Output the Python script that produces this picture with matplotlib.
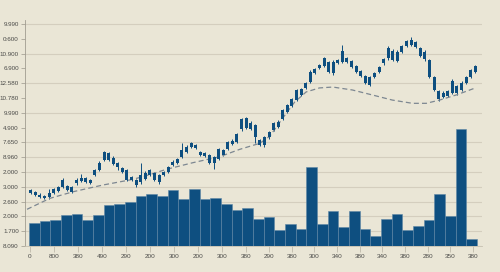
import numpy as np
import matplotlib.pyplot as plt

# volume bars (in y-tick units, 0 = baseline)
volumes = [1.55, 1.69, 1.76, 2.09, 2.16, 1.76, 2.09, 2.77, 2.84, 2.97,
           3.38, 3.51, 3.38, 3.78, 3.18, 3.85, 3.18, 3.24, 2.84, 2.43,
           2.57, 1.82, 1.96, 1.08, 1.49, 1.15, 5.34, 1.49, 2.36, 1.28,
           2.36, 1.15, 0.68, 1.82, 2.16, 1.08, 1.35, 1.76, 3.51, 2.03,
           7.91, 0.47]

# candles: body low/high, wick low/high
body_lo = [3.60, 3.45, 3.33, 3.22, 3.29, 3.56, 3.74, 4.01, 3.78, 3.67,
           4.24, 4.39, 4.34, 4.24, 4.80, 5.14, 5.81, 5.81, 5.54, 5.32,
           5.02, 4.46, 4.46, 4.12, 4.34, 4.51, 4.80, 4.46, 4.34, 4.80,
           5.02, 5.47, 5.59, 6.03, 6.37, 6.67, 6.60, 6.15, 6.08, 5.63,
           5.59, 5.86, 6.15, 6.53, 6.87, 7.05, 7.89, 7.95, 7.89, 7.39,
           6.82, 6.82, 7.34, 7.84, 8.02, 8.56, 9.07, 9.46, 9.86, 10.20,
           10.66, 11.10, 11.67, 12.01, 12.16, 11.78, 11.67, 12.34, 12.45, 12.45,
           12.11, 11.78, 11.49, 11.03, 10.88, 11.44, 11.78, 12.34, 12.68, 12.57,
           12.52, 13.13, 13.53, 13.58, 13.47, 12.84, 12.61, 11.44, 10.54, 9.91,
           10.09, 10.14, 10.32, 10.32, 10.54, 10.99, 11.44, 11.78]
body_hi = [3.76, 3.67, 3.45, 3.38, 3.60, 3.83, 3.97, 4.46, 4.05, 3.97,
           4.46, 4.61, 4.57, 4.46, 5.14, 5.63, 6.37, 6.30, 5.97, 5.59,
           5.29, 5.14, 4.68, 4.46, 4.80, 4.95, 5.14, 4.91, 4.80, 5.02,
           5.32, 5.70, 5.86, 6.49, 6.71, 6.94, 6.82, 6.37, 6.30, 6.15,
           6.03, 6.53, 6.49, 7.03, 7.11, 7.57, 8.56, 8.63, 8.33, 8.18,
           7.16, 7.34, 7.72, 8.29, 8.40, 9.19, 9.53, 9.91, 10.54, 10.59,
           10.99, 11.78, 11.94, 12.23, 12.68, 12.41, 12.45, 12.57, 13.20, 12.68,
           12.52, 12.16, 11.84, 11.49, 11.44, 11.71, 12.07, 12.64, 13.36, 13.20,
           13.13, 13.51, 13.85, 13.92, 13.80, 13.36, 13.13, 12.57, 11.44, 10.47,
           10.36, 10.47, 11.17, 10.81, 11.03, 11.44, 11.89, 12.18]
wick_lo = [3.52, 3.40, 3.22, 3.15, 3.16, 3.50, 3.68, 3.90, 3.72, 3.60,
           4.12, 4.32, 4.28, 4.18, 4.74, 5.08, 5.72, 5.74, 5.46, 5.14,
           4.95, 4.40, 4.40, 4.02, 4.19, 4.44, 4.72, 4.38, 4.22, 4.74,
           4.95, 5.40, 5.52, 5.96, 6.30, 6.60, 6.54, 6.08, 6.00, 5.55,
           5.20, 5.78, 6.08, 6.46, 6.80, 6.98, 7.80, 7.88, 7.82, 6.96,
           6.74, 6.71, 7.26, 7.76, 7.95, 8.48, 9.00, 9.38, 9.78, 10.12,
           10.58, 11.02, 11.60, 11.94, 12.08, 11.70, 11.58, 12.27, 12.36, 12.38,
           12.04, 11.70, 11.42, 10.95, 10.78, 11.37, 11.70, 12.26, 12.60, 12.48,
           12.44, 13.06, 13.46, 13.50, 13.40, 12.76, 12.52, 11.36, 10.46, 9.80,
           10.00, 10.06, 10.24, 10.20, 10.46, 10.92, 11.36, 11.70]
wick_hi = [3.83, 3.72, 3.56, 3.45, 3.83, 3.90, 4.05, 4.57, 4.12, 4.03,
           4.57, 4.86, 4.64, 4.52, 5.22, 5.75, 6.45, 6.38, 6.05, 5.66,
           5.36, 5.22, 4.75, 4.52, 5.59, 5.05, 5.22, 4.98, 4.88, 5.10,
           5.40, 5.78, 5.94, 6.94, 6.80, 7.02, 6.90, 6.44, 6.38, 6.22,
           6.10, 6.62, 6.56, 7.10, 7.20, 7.66, 8.66, 8.72, 8.42, 8.26,
           7.24, 7.42, 7.80, 8.38, 8.48, 9.28, 9.62, 10.00, 10.64, 10.68,
           11.08, 11.88, 12.02, 12.30, 12.78, 12.50, 12.54, 12.64, 13.58, 12.76,
           12.60, 12.24, 11.92, 11.56, 11.52, 11.78, 12.15, 12.72, 13.50, 13.28,
           13.22, 13.60, 13.94, 14.10, 13.88, 13.44, 13.22, 12.66, 11.52, 10.56,
           10.44, 10.56, 11.26, 10.90, 11.12, 11.52, 11.98, 12.26]

# moving average, read at some candle positions
ma_idx = [-0.8, 4.2, 9.3, 15.75, 21.6, 24.5, 29.6, 35.4, 41.2, 45.6, 50,
          52.2, 55, 57.6, 60.1, 63, 65.9, 70.2, 74.6, 78.9, 83.3, 86.3,
          89.2, 92.8, 97.2]
ma_val = [2.48, 3.22, 3.67, 4.12, 4.46, 4.68, 5.18, 5.63, 6.03, 6.53, 6.94,
          7.43, 8.65, 9.73, 10.41, 10.68, 10.74, 10.54, 10.20, 9.86, 9.64, 9.64,
          9.86, 10.20, 10.70]

ytick_labels = ['8.090', '1.700', '2.000', '2.600', '3.000', '2.000', '8.960',
                '7.650', '4.900', '9.990', '10.780', '12.580', '6.900',
                '10.900', '0:600', '9.990']
xtick_labels = ['0', '800', '380', '490', '290', '200', '300', '200', '300',
                '380', '290', '380', '300', '340', '380', '340', '380', '280',
                '350', '380']

bg = '#eae6d6'
blue = '#0e4f80'
txt = '#4a4a48'

fig = plt.figure(figsize=(5, 2.72), dpi=100, facecolor=bg)
ax = fig.add_axes([25/500, 26/272, 457/500, 226/272])
ax.set_facecolor(bg)

for g in [0, 1, 2, 3, 4, 5, 6, 7, 9, 11, 13, 15]:
    ax.axhline(g, color='#d4cebe', lw=0.8, zorder=0)

x = np.arange(len(volumes))
ax.bar(x, volumes, width=1.0, color=blue, edgecolor='#5f87a6', linewidth=0.4, zorder=2)

ax.set_xlim(-0.875, 41.97)
ax.set_ylim(0, 15.27)
ax.set_yticks(range(16))
ax.set_yticklabels(ytick_labels)
xt = np.r_[np.linspace(-0.41, 19.84, 10), np.linspace(22.0, 41.12, 10)]
ax.set_xticks(xt)
ax.set_xticklabels(xtick_labels)
ax.tick_params(axis='y', length=3, width=0.5, color='#9a968a', pad=1.5,
               labelsize=4.5, labelcolor=txt)
ax.tick_params(axis='x', length=4, width=0.5, color='#b5b0a2', pad=2,
               labelsize=4.6, labelcolor=txt)
for lab in ax.get_xticklabels() + ax.get_yticklabels():
    lab.set_family('Liberation Sans')
for s in ['top', 'right']:
    ax.spines[s].set_visible(False)
ax.spines['left'].set_color('#a09c90')
ax.spines['left'].set_linewidth(0.6)
ax.spines['bottom'].set_color('#c6c0b0')
ax.spines['bottom'].set_linewidth(0.6)

# candles on their own x scale
ax2 = ax.twiny()
ci = np.arange(len(body_lo))
lo = np.array(body_lo)
hi = np.array(body_hi)
ax2.vlines(ci, wick_lo, wick_hi, color=blue, lw=0.7, zorder=3)
ax2.bar(ci, hi - lo, bottom=lo, width=0.65, color=blue, zorder=4)
ax2.plot(ma_idx, ma_val, color='#7d8791', lw=0.9, ls=(0, (4, 2.5)), zorder=3)
ax2.set_xlim(-1.24, 98.46)
ax2.tick_params(top=False, labeltop=False)
for s in ax2.spines.values():
    s.set_visible(False)

fig.savefig('out.png', dpi=100, facecolor=bg)
